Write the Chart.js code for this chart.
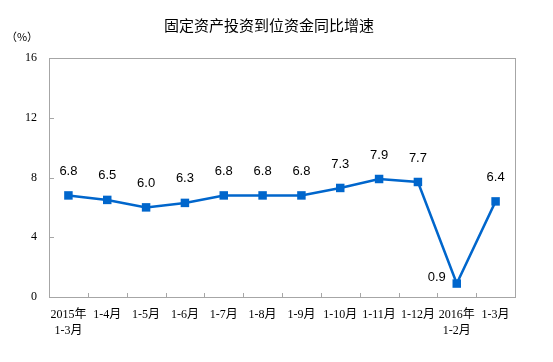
<!DOCTYPE html>
<html><head><meta charset="utf-8">
<script src="https://cdn.jsdelivr.net/npm/chart.js@4/dist/chart.umd.min.js"></script>
<style>html,body{margin:0;padding:0;background:#fff;}canvas{display:block;}</style>
</head><body>
<canvas id="c" width="553" height="362"></canvas>
<script>
const categories = [["2015年","1-3月"],"1-4月","1-5月","1-6月","1-7月","1-8月","1-9月","1-10月","1-11月","1-12月",["2016年","1-2月"],"1-3月"];
const values = [6.8, 6.5, 6.0, 6.3, 6.8, 6.8, 6.8, 7.3, 7.9, 7.7, 0.9, 6.4];
const yTicks = [0, 4, 8, 12, 16];
const titleText = "固定资产投资到位资金同比增速";
const unitText = "（%）";

const AXIS = "#A6A6A6";
const LINE = "#0066CC";

const decor = {
  id: "decor",
  afterDraw(chart) {
    const ctx = chart.ctx, a = chart.chartArea;
    const xs = chart.scales.x, ys = chart.scales.y;
    ctx.save();
    ctx.strokeStyle = AXIS; ctx.lineWidth = 1;
    ctx.strokeRect(Math.round(a.left) + 0.5, Math.round(a.top) + 0.5, Math.round(a.right - a.left), Math.round(a.bottom - a.top));
    ctx.beginPath();
    yTicks.forEach(v => {
      const y = Math.round(ys.getPixelForValue(v)) + 0.5;
      ctx.moveTo(a.left, y); ctx.lineTo(a.left + 5, y);
    });
    for (let i = 1; i < categories.length; i++) {
      const x = Math.round((xs.getPixelForValue(i - 1) + xs.getPixelForValue(i)) / 2) + 0.5;
      ctx.moveTo(x, a.bottom); ctx.lineTo(x, a.bottom - 4);
    }
    ctx.stroke();
    // title and unit
    ctx.fillStyle = "#000";
    ctx.textAlign = "center"; ctx.textBaseline = "middle";
    ctx.font = "15px 'Noto Sans CJK SC'";
    ctx.fillText(titleText, 269, 25);
    ctx.font = "11px 'Noto Sans CJK SC'";
    ctx.fillText(unitText, 22, 37);
    // data labels
    const meta = chart.getDatasetMeta(0);
    ctx.font = "13px 'Liberation Sans'";
    meta.data.forEach((pt, i) => {
      const txt = values[i].toFixed(1);
      if (i === 10) ctx.fillText(txt, pt.x - 20, pt.y - 6);
      else ctx.fillText(txt, pt.x, pt.y - 24);
    });
    ctx.restore();
  }
};

new Chart(document.getElementById("c"), {
  type: "line",
  data: {
    labels: categories,
    datasets: [{
      data: values,
      borderColor: LINE,
      backgroundColor: LINE,
      borderWidth: 2.5,
      pointStyle: "rect",
      pointRadius: 6,
      pointBorderWidth: 0,
      pointBackgroundColor: LINE,
      tension: 0,
      fill: false
    }]
  },
  options: {
    responsive: false,
    animation: false,
    layout: { padding: { top: 58, right: 38, left: 0, bottom: 0 } },
    plugins: { legend: { display: false }, tooltip: { enabled: false }, title: { display: false } },
    scales: {
      x: {
        type: "category",
        offset: true,
        grid: { display: false, drawTicks: false },
        border: { display: false },
        ticks: { color: "#000", font: { family: "'Liberation Serif','Noto Sans CJK SC'", size: 12, lineHeight: 1.35 }, padding: 10, maxRotation: 0, autoSkip: false },
        afterFit(s) { s.height = 65; }
      },
      y: {
        min: 0, max: 16,
        afterBuildTicks(s) { s.ticks = yTicks.map(v => ({ value: v })); },
        grid: { display: false, drawTicks: false },
        border: { display: false },
        ticks: { color: "#000", font: { family: "'Liberation Serif'", size: 12 }, padding: 12 },
        afterFit(s) { s.width = 49; }
      }
    }
  },
  plugins: [decor]
});
</script>
</body></html>
